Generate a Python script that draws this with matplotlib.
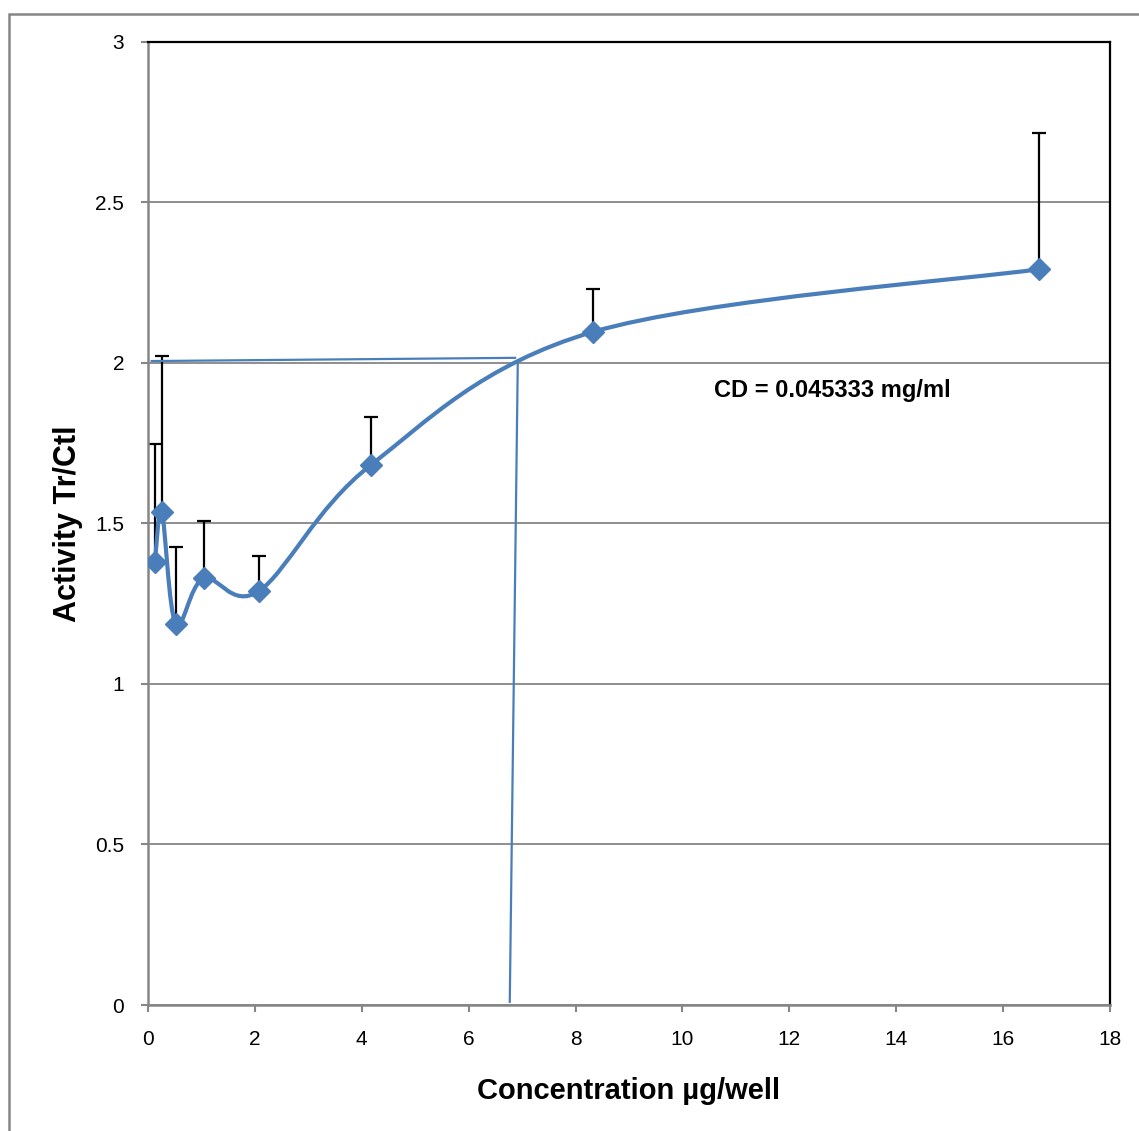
import numpy as np
import matplotlib
matplotlib.use('Agg')
import matplotlib.pyplot as plt
from matplotlib.path import Path
from matplotlib.patches import PathPatch, Rectangle

plt.rcParams['font.family'] = ['Liberation Sans', 'DejaVu Sans']

# Данные
conc = [0.13, 0.26, 0.52, 1.04, 2.08, 4.17, 8.33, 16.67]
activity = [1.38, 1.535, 1.187, 1.329, 1.29, 1.682, 2.097, 2.292]
err_upper = [0.367, 0.487, 0.239, 0.18, 0.109, 0.149, 0.134, 0.425]

# Линии, отмечающие CD
hline_x = [0.07, 6.87]
hline_y = [2.006, 2.016]
vline_x = [6.92, 6.77]
vline_y = [2.006, 0.01]

blue = '#4A7EBB'
grey = '#868686'

fig = plt.figure(figsize=(11.39, 11.31), dpi=100)
ax = fig.add_axes([0.1299, 0.1114, 0.8446, 0.8515])

# Рамка вокруг всей диаграммы
fig.patches.append(Rectangle((9 / 1139, -0.05), 1.2, 0.05 + (1131 - 13.5) / 1131,
                             transform=fig.transFigure, fill=False,
                             edgecolor=grey, linewidth=1.8, zorder=0))

ax.set_xlim(0, 18)
ax.set_ylim(0, 3)
ax.set_xticks(np.arange(0, 19, 2))
ax.set_yticks([0, 0.5, 1, 1.5, 2, 2.5, 3])
ax.set_yticklabels(['0', '0.5', '1', '1.5', '2', '2.5', '3'])
ax.yaxis.grid(True, color=grey, linewidth=1.3)
ax.set_axisbelow(True)

for s in ['left', 'bottom']:
    ax.spines[s].set_color(grey)
    ax.spines[s].set_linewidth(1.8)
for s in ['top', 'right']:
    ax.spines[s].set_color('black')
    ax.spines[s].set_linewidth(1.6)
ax.tick_params(axis='both', direction='out', length=5, width=1.5, color=grey,
               labelsize=15, pad=13)
ax.tick_params(axis='y', pad=12)

# Сглаженная линия (как в Excel) - кривые Безье через точки
pts = np.column_stack([conc, activity])
n = len(pts)
verts = [pts[0]]
codes = [Path.MOVETO]
for i in range(n - 1):
    p0 = pts[i - 1] if i > 0 else pts[i]
    p1 = pts[i]
    p2 = pts[i + 1]
    p3 = pts[i + 2] if i + 2 < n else pts[i + 1]
    c1 = p1 + (p2 - p0) / 6
    c2 = p2 - (p3 - p1) / 6
    verts += [c1, c2, p2]
    codes += [Path.CURVE4] * 3
ax.add_patch(PathPatch(Path(verts, codes), fill=False, edgecolor=blue,
                       linewidth=3.0, zorder=3, capstyle='round'))

ax.errorbar(conc, activity, yerr=[np.zeros(n), err_upper], fmt='none',
            ecolor='black', elinewidth=1.6, capsize=5, capthick=1.6, zorder=2)
ax.plot(conc, activity, linestyle='none', marker='D', markersize=11,
        color=blue, zorder=4)

ax.plot(hline_x, hline_y, color=blue, linewidth=1.6, zorder=3)
ax.plot(vline_x, vline_y, color=blue, linewidth=1.6, zorder=3)

ax.text(10.6, 1.913, 'CD = 0.045333 mg/ml', fontsize=17, fontweight='bold',
        va='center', ha='left')

ax.set_xlabel('Concentration µg/well', fontsize=21, fontweight='bold', labelpad=20)
ax.set_ylabel('Activity Tr/Ctl', fontsize=22, fontweight='bold', labelpad=9)

fig.savefig('out.png', dpi=100)
